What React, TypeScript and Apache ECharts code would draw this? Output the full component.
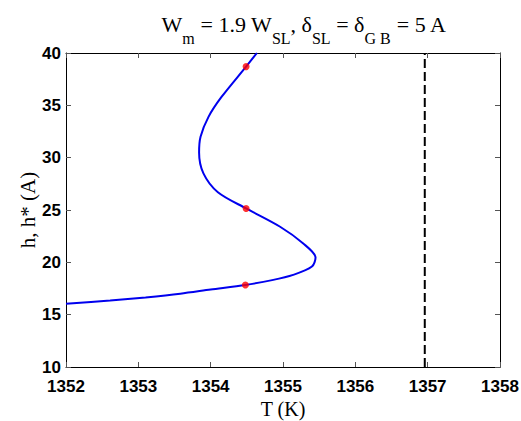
import React, { useEffect, useRef } from "react";
import * as echarts from "echarts";

// Curve traced along its length (T in K, h in A)
const curveT = [1352.0, 1352.61, 1353.1, 1353.58, 1354.0, 1354.48, 1354.85, 1355.14, 1355.4, 1355.45, 1355.28, 1354.96, 1354.49, 1354.1, 1353.9, 1353.84, 1353.86, 1353.97, 1354.15, 1354.49, 1354.64];
const curveH = [16.05, 16.35, 16.65, 17.0, 17.4, 17.84, 18.3, 18.8, 19.6, 20.45, 21.8, 23.4, 25.15, 26.7, 28.5, 30.5, 32.0, 33.9, 35.8, 38.7, 40.0];
// Marked points
const markT = [1354.48, 1354.49, 1354.49];
const markH = [17.84, 25.15, 38.7];
// Vertical dashed line
const dashT = 1356.96;
const dashH = [10, 40];

const xTicks = [1352, 1353, 1354, 1355, 1356, 1357, 1358];
const yTicks = [10, 15, 20, 25, 30, 35, 40];

export default function App() {
  const ref = useRef<HTMLDivElement>(null);
  useEffect(() => {
    const chart = echarts.init(ref.current!, null, { renderer: "svg" });
    const tickStyle = { show: true, inside: true, length: 5, lineStyle: { color: "#555" } };
    const lineStyle = { show: true, lineStyle: { color: "#000", width: 1 } };
    const xBase = {
      type: "value" as const,
      min: xTicks[0],
      max: xTicks[xTicks.length - 1],
      interval: 1,
      splitLine: { show: false },
      axisLine: lineStyle,
      axisTick: tickStyle,
    };
    const yBase = {
      type: "value" as const,
      min: yTicks[0],
      max: yTicks[yTicks.length - 1],
      interval: 5,
      splitLine: { show: false },
      axisLine: lineStyle,
      axisTick: tickStyle,
    };
    const tickFont = { fontFamily: "Liberation Sans", fontSize: 17, fontWeight: "bold" as const, color: "#000" };
    chart.setOption({
      animation: false,
      backgroundColor: "#fff",
      title: {
        text: "{n|W}{s|m}{n| = 1.9 W}{s|SL}{n|, δ}{s|SL}{n| = δ}{s|G B}{n| = 5 A}",
        left: 299,
        textAlign: "center",
        top: 8,
        textStyle: {
          fontWeight: "normal",
          rich: {
            n: { fontFamily: "Liberation Serif", fontWeight: "normal", fontSize: 22, color: "#000", lineHeight: 33, verticalAlign: "top" },
            s: { fontFamily: "Liberation Serif", fontWeight: "normal", fontSize: 16, color: "#000", lineHeight: 33, verticalAlign: "bottom" },
          },
        },
      },
      grid: { left: 66, right: 21, top: 53, bottom: 54, outerBoundsMode: "none", containLabel: false },
      xAxis: [
        {
          ...xBase,
          position: "bottom",
          name: "T (K)",
          nameLocation: "middle",
          nameGap: 32,
          nameMoveOverlap: false,
          nameTextStyle: { fontFamily: "Liberation Serif", fontSize: 20, color: "#000", lineHeight: 20 },
          axisLabel: { ...tickFont, margin: 11, formatter: (v: number) => String(v) },
        },
        { ...xBase, position: "top", axisLabel: { show: false } },
      ],
      yAxis: [
        {
          ...yBase,
          position: "left",
          name: "h, h* (A)",
          nameLocation: "middle",
          nameGap: 28,
          nameMoveOverlap: false,
          nameTextStyle: { fontFamily: "Liberation Serif", fontSize: 21, color: "#000" },
          axisLabel: { ...tickFont, margin: 5, formatter: (v: number) => String(v) },
        },
        { ...yBase, position: "right", axisLabel: { show: false } },
      ],
      series: [
        {
          type: "line",
          data: curveT.map((t, i) => [t, curveH[i]]),
          smooth: 0.3,
          showSymbol: false,
          lineStyle: { color: "#0000ee", width: 2 },
          clip: true,
          z: 2,
        },
        {
          type: "line",
          data: dashH.map((h) => [dashT, h]),
          showSymbol: false,
          lineStyle: { color: "#000", width: 2, type: [9, 4] },
          z: 2,
        },
        {
          type: "scatter",
          data: markT.map((t, i) => [t, markH[i]]),
          symbol: "circle",
          symbolSize: 7,
          itemStyle: { color: "#ff0000" },
          z: 5,
        },
      ],
    });
    return () => chart.dispose();
  }, []);
  return <div ref={ref} style={{ width: 521, height: 421, position: "absolute", left: 0, top: 0 }} />;
}
